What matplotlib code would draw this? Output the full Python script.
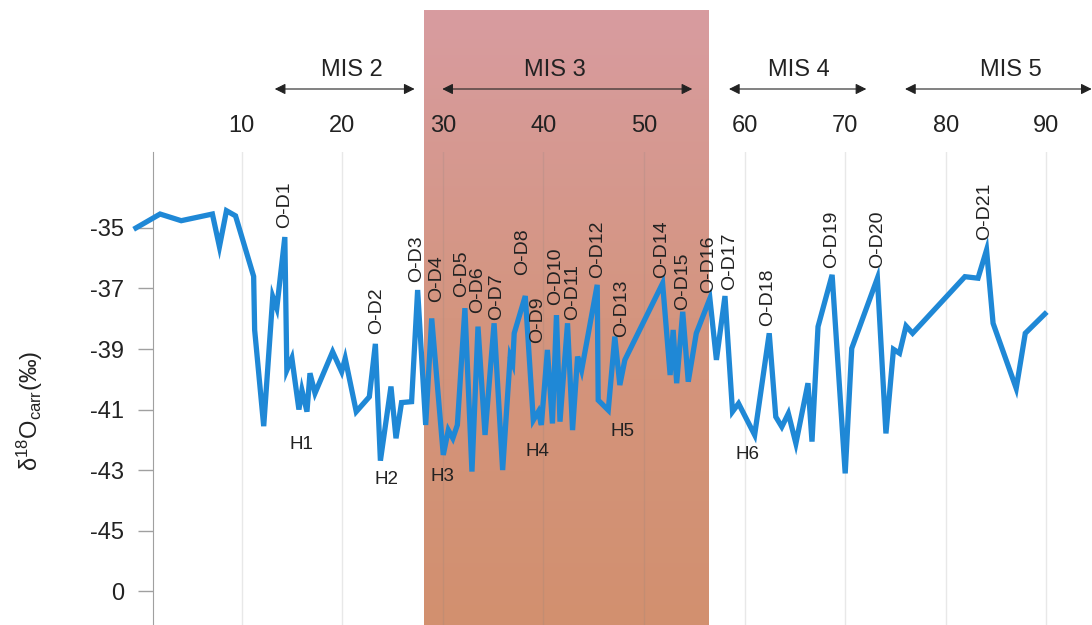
import numpy as np
import matplotlib
matplotlib.use('Agg')
import matplotlib.pyplot as plt
from matplotlib.colors import LinearSegmentedColormap

# age (ka) and d18O values
age = [-0.5, 1.9, 4.0, 7.1, 7.8, 8.5, 9.4, 11.2, 11.3, 12.2, 13.1, 13.5, 14.3, 14.5, 15.0, 15.7, 16.0, 16.5, 16.8, 17.3,
       19.05, 19.95, 20.3, 21.4, 22.7, 23.3, 23.8, 24.85, 25.35, 25.9, 26.9, 27.5, 28.3, 28.9, 30.05, 30.55, 31.0, 31.45,
       32.2, 32.9, 33.5, 34.2, 35.1, 35.95, 36.7, 36.95, 37.1, 38.2, 39.0, 39.5, 39.8, 40.4, 40.9, 41.3, 41.65, 42.4,
       42.9, 43.4, 43.8, 45.35, 45.45, 46.45, 47.1, 47.6, 48.1, 51.85, 52.6, 52.9, 53.25, 53.85, 54.4, 55.2, 56.55,
       57.2, 58.05, 58.8, 59.4, 61.0, 62.45, 63.1, 63.7, 64.35, 65.1, 66.3, 66.7, 67.3, 68.7, 70.0, 70.65, 73.2, 74.05,
       74.8, 75.4, 76.05, 76.7, 81.9, 83.2, 84.05, 84.7, 87.0, 87.9, 89.85]
d18o = [-35.0, -34.54, -34.76, -34.54, -35.62, -34.43, -34.6, -36.6, -38.37, -41.55, -37.27, -37.65, -35.3, -39.7,
        -39.3, -41.0, -40.36, -41.07, -39.8, -40.46, -39.09, -39.75, -39.31, -41.07, -40.58, -38.83, -42.69, -40.24,
        -41.95, -40.77, -40.74, -37.05, -41.51, -37.99, -42.5, -41.68, -41.95, -41.51, -37.65, -43.05, -38.26, -41.84,
        -38.15, -43.0, -39.25, -39.47, -38.48, -37.25, -41.35, -41.07, -41.51, -39.03, -41.46, -37.88, -41.4, -38.15,
        -41.68, -39.25, -39.7, -36.88, -40.69, -41.02, -38.59, -40.19, -39.36, -36.83, -39.86, -38.37, -40.13, -37.77,
        -40.08, -38.48, -37.33, -39.36, -37.25, -41.07, -40.8, -41.84, -38.48, -41.24, -41.57, -41.13, -42.12, -40.13,
        -42.06, -38.26, -36.55, -43.11, -38.98, -36.66, -41.79, -39.01, -39.14, -38.24, -38.48, -36.61, -36.66, -35.73,
        -38.15, -40.3, -38.48, -37.84]

# O-D event labels (x, bottom of label)
od_names = ['O-D1', 'O-D2', 'O-D3', 'O-D4', 'O-D5', 'O-D6', 'O-D7', 'O-D8', 'O-D9', 'O-D10', 'O-D11',
            'O-D12', 'O-D13', 'O-D14', 'O-D15', 'O-D16', 'O-D17', 'O-D18', 'O-D19', 'O-D20', 'O-D21']
od_x = [14.3, 23.45, 27.45, 29.4, 31.9, 33.5, 35.4, 37.95, 39.4, 41.25, 42.95,
        45.4, 47.8, 51.8, 53.8, 56.4, 58.55, 62.3, 68.7, 73.2, 83.9]
od_y = [-35.0, -38.5, -36.8, -37.45, -37.28, -37.81, -38.04, -36.55, -38.8, -37.55, -38.04,
        -36.65, -38.6, -36.65, -37.71, -37.15, -37.05, -38.24, -36.32, -36.32, -35.4]

# Heinrich events
h_names = ['H1', 'H2', 'H3', 'H4', 'H5', 'H6']
h_x = [16.0, 24.45, 30.0, 39.4, 47.9, 60.3]
h_y = [-42.14, -43.3, -43.2, -42.4, -41.74, -42.5]

# marine isotope stages: label, arrow start, arrow end, label x
mis_names = ['MIS 2', 'MIS 3', 'MIS 4', 'MIS 5']
mis_start = [13.3, 29.95, 58.45, 75.95]
mis_end = [27.2, 54.8, 72.1, 94.5]
mis_label_x = [21.0, 41.15, 65.4, 86.5]

shade_span = (28.1, 56.4)

xticks = [10, 20, 30, 40, 50, 60, 70, 80, 90]
yticks = [-35, -37, -39, -41, -43, -45, -47]
ytick_labels = ['-35', '-37', '-39', '-41', '-43', '-45', '0']

plt.rcParams['font.family'] = ['Liberation Sans', 'DejaVu Sans']
plt.rcParams['mathtext.fontset'] = 'custom'
plt.rcParams['mathtext.rm'] = 'Liberation Sans'
plt.rcParams['mathtext.it'] = 'Liberation Sans:italic'

W, H = 1092, 625
fig = plt.figure(figsize=(W / 100, H / 100), dpi=100)

xmin, xmax = -1.09, 93.34
left = 130 / W
width = 950 / W

# background axes for the gradient band (extends above plot)
bg = fig.add_axes([left, 0, width, (H - 10) / H])
bg.axis('off')
cmap = LinearSegmentedColormap.from_list('band', ['#d2906f', '#d4957f', '#d89ca0'])
grad = np.linspace(0, 1, 256).reshape(-1, 1)
bg.imshow(grad, cmap=cmap, origin='lower', aspect='auto',
          extent=[shade_span[0], shade_span[1], 0, 1], zorder=0)
bg.set_xlim(xmin, xmax)
bg.set_ylim(0, 1)

ax = fig.add_axes([left, 0, width, (H - 152) / H])
ax.patch.set_alpha(0)
ax.set_xlim(xmin, xmax)
ax.set_ylim(-48.12, -32.49)

ax.plot(age, d18o, color='#1f88d6', lw=3.8, solid_joinstyle='miter', zorder=3)

for name, x, y in zip(od_names, od_x, od_y):
    ax.text(x, y, name, rotation=90, ha='center', va='bottom', fontsize=14, color='#222222')
for name, x, y in zip(h_names, h_x, h_y):
    ax.text(x, y, name, ha='center', va='center', fontsize=13.5, color='#222222')

for name, x0, x1, xl in zip(mis_names, mis_start, mis_end, mis_label_x):
    ax.annotate('', xy=(x1, 1 - 89 / H), xytext=(x0, 1 - 89 / H),
                xycoords=('data', 'figure fraction'), textcoords=('data', 'figure fraction'),
                arrowprops=dict(arrowstyle='<|-|>', color='#222222', lw=0.8, mutation_scale=16,
                                shrinkA=0, shrinkB=0),
                annotation_clip=False)
    ax.annotate(name, xy=(xl, 1 - 70 / H), xycoords=('data', 'figure fraction'),
                ha='center', va='center', fontsize=17, color='#222222', annotation_clip=False)

ax.xaxis.tick_top()
ax.set_xticks(xticks)
ax.tick_params(axis='x', length=0, pad=11, labelsize=17, colors='#222222')
ax.xaxis.grid(True, color='#808080', alpha=0.18, lw=1)
ax.set_axisbelow(True)

ax.set_yticks(yticks)
ax.set_yticklabels(ytick_labels)
ax.tick_params(axis='y', direction='out', length=11, width=1, color='#a0a0a0', pad=10,
               labelsize=17, labelcolor='#222222')

for s in ['top', 'right', 'bottom']:
    ax.spines[s].set_visible(False)
ax.spines['left'].set_position(('data', 1.2))
ax.spines['left'].set_color('#a0a0a0')

fig.text(30 / W, 1 - 411 / H, 'δ$^{18}$O$_{\\mathrm{carr}}$(‰)', rotation=90, ha='center', va='center',
         fontsize=17, color='#222222')

fig.savefig('out.png', dpi=100)
